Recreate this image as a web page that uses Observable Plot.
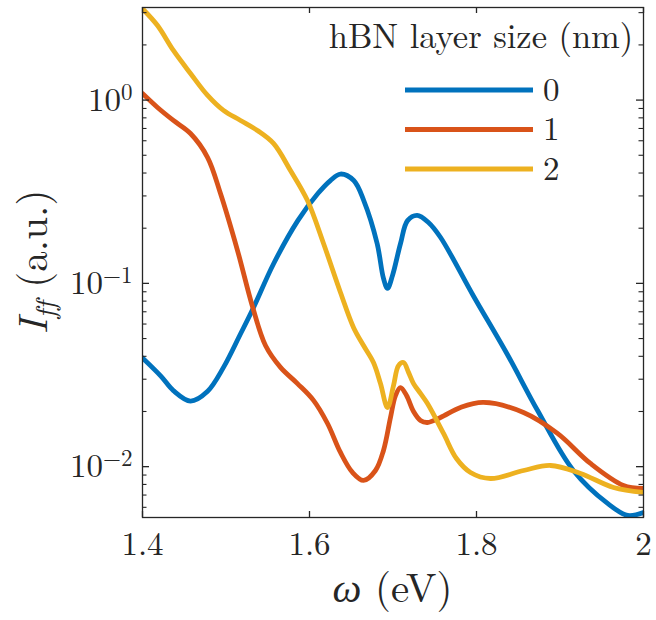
<!DOCTYPE html>
<html>
<head>
<meta charset="utf-8">
<script src="https://cdn.jsdelivr.net/npm/d3@7"></script>
<script src="https://cdn.jsdelivr.net/npm/@observablehq/plot@0.6"></script>
<style>
  html, body { margin: 0; padding: 0; background: #fff; }
  #chart { position: relative; width: 656px; height: 620px; }
  #chart svg, #chart svg text, #chart svg tspan {
    font-family: 'Latin Modern Roman', 'Liberation Serif', 'DejaVu Serif', serif !important;
    font-variant-ligatures: none;
  }
</style>
</head>
<body>
<div id="chart"></div>
<script>
// hBN layer sizes (nm) and their line colours
const layerSizes = ["0", "1", "2"];
const lineColors = ["#0072BD", "#D95319", "#EDB120"];

// Far-field intensity spectra, photon energy ω (eV) against I_ff (a.u.)
const omega0 = [1.400, 1.422, 1.437, 1.4575, 1.478, 1.497, 1.517, 1.533, 1.557, 1.586, 1.610, 1.625, 1.637, 1.653, 1.665, 1.681, 1.6886, 1.6934, 1.6994, 1.709, 1.7174, 1.729, 1.7425, 1.757, 1.796, 1.837, 1.873, 1.916, 1.957, 1.981, 2.000];
const iff0   = [0.0392, 0.0312, 0.0260, 0.0228, 0.0258, 0.0348, 0.0526, 0.0739, 0.128, 0.220, 0.309, 0.364, 0.395, 0.364, 0.283, 0.165, 0.1064, 0.0938, 0.1104, 0.165, 0.220, 0.235, 0.215, 0.178, 0.0859, 0.0409, 0.0203, 0.00953, 0.00630, 0.00542, 0.00563];

const omega1 = [1.400, 1.418, 1.437, 1.4575, 1.478, 1.4934, 1.5138, 1.5317, 1.5473, 1.5653, 1.5856, 1.6048, 1.6216, 1.6371, 1.6515, 1.6647, 1.679, 1.6886, 1.697, 1.703, 1.709, 1.7162, 1.7246, 1.7329, 1.7413, 1.7569, 1.7808, 1.8084, 1.8563, 1.897, 1.9365, 1.976, 2.000];
const iff1   = [1.086, 0.911, 0.774, 0.657, 0.486, 0.309, 0.151, 0.0748, 0.0458, 0.0348, 0.0284, 0.0230, 0.0172, 0.01195, 0.0093, 0.00841, 0.00953, 0.01226, 0.01855, 0.02446, 0.0270, 0.02446, 0.0200, 0.01787, 0.01742, 0.01855, 0.02104, 0.0224, 0.01975, 0.01518, 0.01041, 0.0079, 0.0076];

const omega2 = [1.400, 1.418, 1.437, 1.4575, 1.478, 1.497, 1.5174, 1.5377, 1.5569, 1.5772, 1.5976, 1.6168, 1.6371, 1.6527, 1.6647, 1.6766, 1.685, 1.6934, 1.7006, 1.7066, 1.7126, 1.7186, 1.7246, 1.7329, 1.7413, 1.7605, 1.776, 1.7928, 1.8168, 1.8563, 1.8886, 1.9246, 1.9641, 2.000];
const iff2   = [3.15, 2.55, 1.865, 1.397, 1.060, 0.878, 0.774, 0.682, 0.580, 0.413, 0.283, 0.165, 0.0892, 0.0575, 0.0458, 0.0370, 0.0284, 0.0210, 0.0277, 0.0356, 0.0370, 0.0327, 0.0284, 0.0251, 0.0221, 0.01518, 0.01108, 0.0093, 0.00862, 0.00953, 0.01015, 0.00918, 0.0077, 0.00723];

// Axis ticks
const xTicks = [1.4, 1.6, 1.8, 2];
const yMajorTicks = [1, 0.1, 0.01];
const yMinorTicks = [0.006, 0.007, 0.008, 0.009,
                     0.02, 0.03, 0.04, 0.05, 0.06, 0.07, 0.08, 0.09,
                     0.2, 0.3, 0.4, 0.5, 0.6, 0.7, 0.8, 0.9,
                     2, 3];

const legendTitle = "hBN layer size (nm)";

// Long-format table for the line mark
const spectra = [[omega0, iff0], [omega1, iff1], [omega2, iff2]];
const rows = spectra.flatMap(([om, iv], k) =>
  om.map((w, i) => ({ size: layerSizes[k], omega: w, iff: iv[i] })));

const W = 656, H = 620;
const mL = 142, mR = 13, mT = 7, mB = 103;
const fw = W - mL - mR, fh = H - mT - mB;
const ink = "#262626";

const svg = Plot.plot({
  width: W, height: H,
  marginLeft: mL, marginRight: mR, marginTop: mT, marginBottom: mB,
  style: { fontSize: "33px", color: ink, background: "#fff", overflow: "visible" },
  x: { domain: [1.4, 2] },
  y: { type: "log", domain: [0.00528, 3.2] },
  color: { domain: layerSizes, range: lineColors },
  marks: [
    Plot.line(rows, { x: "omega", y: "iff", z: "size", stroke: "size", strokeWidth: 4.8, curve: "catmull-rom", clip: true }),
    Plot.frame({ stroke: ink, strokeWidth: 1.3 }),
    // inward ticks on all four sides
    Plot.tickX(xTicks, { x: d => d, insetTop: fh - 6, stroke: ink, strokeWidth: 1.3 }),
    Plot.tickX(xTicks, { x: d => d, insetBottom: fh - 6, stroke: ink, strokeWidth: 1.3 }),
    Plot.tickY(yMajorTicks, { y: d => d, insetRight: fw - 7, stroke: ink, strokeWidth: 1.3 }),
    Plot.tickY(yMajorTicks, { y: d => d, insetLeft: fw - 7, stroke: ink, strokeWidth: 1.3 }),
    Plot.tickY(yMinorTicks, { y: d => d, insetRight: fw - 4.5, stroke: ink, strokeWidth: 1.1 }),
    Plot.tickY(yMinorTicks, { y: d => d, insetLeft: fw - 4.5, stroke: ink, strokeWidth: 1.1 }),
    Plot.axisX({ ticks: xTicks, tickSize: 0, tickPadding: 14, tickFormat: d => String(d), label: null, fill: ink }),
    Plot.axisY({ ticks: yMajorTicks, tickSize: 0, tickPadding: 10,
                 tickFormat: d => "10" + String(Math.round(Math.log10(d))).replace("-", "\u2212"),
                 label: null, fill: ink })
  ]
});

document.getElementById("chart").appendChild(svg);
const root = d3.select(svg);

// Powers of ten with a raised exponent
root.selectAll('g[aria-label="y-axis tick label"] text').each(function () {
  const t = d3.select(this);
  const s = t.text();
  t.text(null);
  t.append("tspan").text(s.slice(0, 2));
  t.append("tspan").attr("font-size", "23px").attr("dy", "-11").text(s.slice(2));
});

// Axis titles
const xl = root.append("text")
  .attr("x", mL + fw / 2).attr("y", 601.5)
  .attr("text-anchor", "middle").attr("fill", ink)
  .style("font-size", "41px");
xl.append("tspan").attr("font-style", "italic").text("ω");
xl.append("tspan").text(" (eV)");

const yl = root.append("text")
  .attr("transform", `translate(47,${mT + fh / 2}) rotate(-90)`)
  .attr("text-anchor", "middle").attr("fill", ink)
  .style("font-size", "41px");
yl.append("tspan").attr("font-style", "italic").text("I");
yl.append("tspan").attr("font-style", "italic").attr("font-size", "28px").attr("dy", "8").text("ff");
yl.append("tspan").attr("dy", "-8").text(" (a.u.)");

// Legend, inside the upper right of the axes
const lg = root.append("g").attr("fill", ink);
lg.append("text").attr("x", 481).attr("y", 48).attr("text-anchor", "middle")
  .style("font-size", "34.5px").text(legendTitle);
const rowY = i => 90 + i * 39.5;
layerSizes.forEach((s, i) => {
  lg.append("line").attr("x1", 405).attr("x2", 533).attr("y1", rowY(i)).attr("y2", rowY(i))
    .attr("stroke", lineColors[i]).attr("stroke-width", 4.8);
});
// entry labels set as one text block, one line per entry
const entries = lg.append("text").attr("text-anchor", "start").style("font-size", "33px");
layerSizes.forEach((s, i) => {
  entries.append("tspan").attr("x", 543).attr("y", rowY(i) + 10.5).text(s);
});
</script>
</body>
</html>
